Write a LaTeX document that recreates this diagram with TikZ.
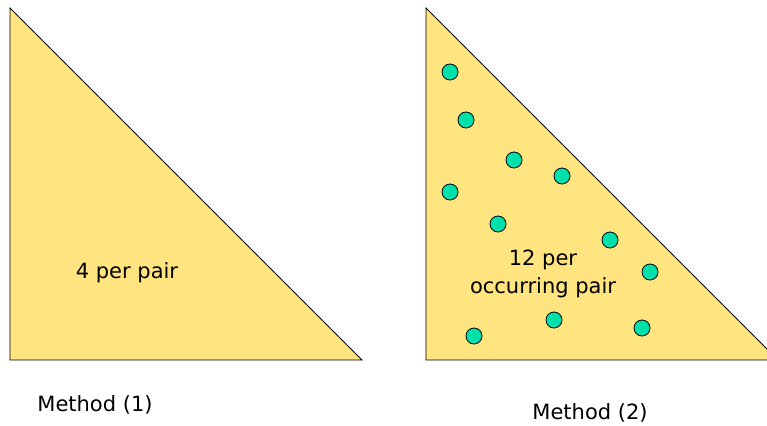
\documentclass[tikz,border=0pt]{standalone}
\usepackage{fontspec}
\setmainfont{DejaVu Sans}
\definecolor{pairfill}{HTML}{FFE480}
\definecolor{dotfill}{HTML}{00E0AA}
\tikzset{
  tri/.style={fill=pairfill, draw=black, line width=0.8pt, line join=miter},
  pairdot/.style={circle, fill=dotfill, draw=black, line width=0.8pt, minimum size=16pt, inner sep=0pt},
  lbl/.style={font=\fontsize{21}{28}\selectfont, inner sep=0pt, align=center}
}
\begin{document}
\begin{tikzpicture}[x=1pt,y=-1pt]
\clip (0,0) rectangle (767,425);

% method (1)
\draw[tri] (10,8) -- (10,360) -- (362,360) -- cycle;
\node[lbl] (perpair) at (127,273) {4 per pair};
\node[lbl] (methodA) at (95,405) {Method (1)};

% method (2)
\draw[tri] (426,8) -- (426,360) -- (778,360) -- cycle;
\foreach \px/\py [count=\i] in {450/72, 466/120, 514/160, 562/176, 450/192, 498/224,
    610/240, 650/272, 554/320, 642/328, 474/336}
  \node[pairdot] (dot\i) at (\px,\py) {};
\node[lbl] (occpair) at (543,274) {12 per\\occurring pair};
\node[lbl] (methodB) at (590,413) {Method (2)};
\end{tikzpicture}
\end{document}
